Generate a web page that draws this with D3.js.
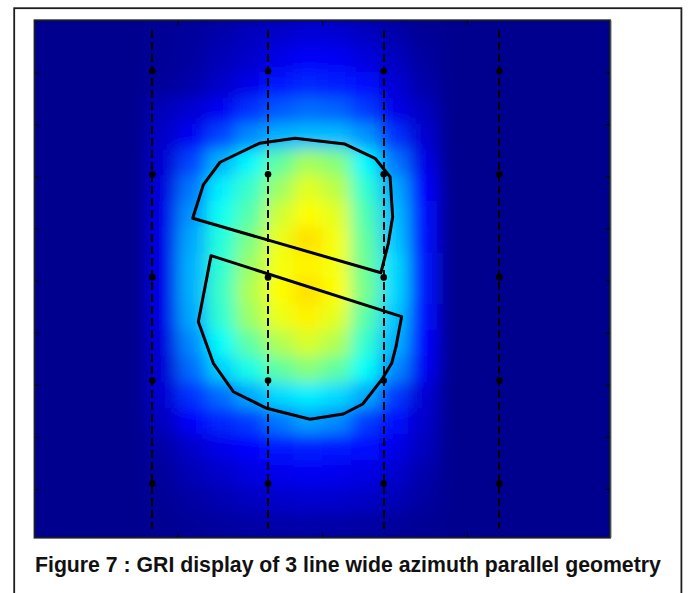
<!DOCTYPE html>
<html>
<head>
<meta charset="utf-8">
<script src="https://cdn.jsdelivr.net/npm/d3@7"></script>
<style>
  html, body { margin: 0; padding: 0; background: #ffffff; }
  svg { display: block; }
</style>
</head>
<body>
<svg id="chart" width="688" height="593"></svg>
<script>
// ---------------- data ----------------
const xDomain = [-1990, 1990];          // crossline distance, m
const yDomain = [0, 4970];              // inline distance, m
const xTicks = [-1000, 0, 1000];
const yTicks = [500, 1000, 1500, 2000, 2500, 3000, 3500, 4000, 4500];

const receiverLineX = [-1175, -375, 425, 1225];
const receiverLineY = [95, 4885];
const receiverStationY = [490, 1480, 2470, 3460, 4450];

const upperPatchX = [-896, -823, -707, -435, -188, 157, 365, 469, 487, 457, 406];
const upperPatchY = [1902, 1582, 1364, 1182, 1134, 1189, 1326, 1503, 1887, 2142, 2425];
const lowerPatchX = [-769, 549, 510, 480, 418, 280, 146, -85, -384, -615, -753, -857];
const lowerPatchY = [2261, 2847, 3135, 3295, 3439, 3686, 3782, 3833, 3727, 3568, 3295, 2895];

// GRI value per grid cell (20 rows x 20 columns), colour-index fraction 0..1
const gridValues = [
  [0,0,0,0, 0.008,0.015,0.028,0.045,0.058,0.072,0.068,0.050,0.028,0.008, 0,0,0,0,0,0],
  [0,0,0,0, 0.008,0.017,0.040,0.058,0.088,0.105,0.100,0.078,0.050,0.017, 0,0,0,0,0,0],
  [0,0,0,0, 0.012,0.028,0.058,0.088,0.130,0.150,0.140,0.120,0.068,0.028, 0,0,0,0,0,0],
  [0,0,0,0, 0.045,0.068,0.100,0.160,0.200,0.220,0.210,0.170,0.090,0.050, 0,0,0,0,0,0],
  [0,0,0,0, 0.058,0.100,0.180,0.250,0.290,0.300,0.300,0.260,0.160,0.068, 0,0,0,0,0,0],
  [0,0,0,0, 0.068,0.180,0.290,0.360,0.460,0.530,0.500,0.360,0.230,0.088, 0,0,0,0,0,0],
  [0,0,0,0, 0.078,0.230,0.350,0.420,0.520,0.590,0.550,0.410,0.280,0.110, 0,0,0,0,0,0],
  [0,0,0,0, 0.088,0.260,0.380,0.450,0.570,0.620,0.590,0.440,0.300,0.120, 0,0,0,0,0,0],
  [0,0,0,0, 0.088,0.280,0.400,0.490,0.600,0.650,0.610,0.460,0.310,0.120, 0,0,0,0,0,0],
  [0,0,0,0, 0.090,0.290,0.410,0.520,0.610,0.630,0.610,0.470,0.330,0.130, 0,0,0,0,0,0],
  [0,0,0,0, 0.090,0.290,0.420,0.540,0.620,0.650,0.620,0.480,0.330,0.130, 0,0,0,0,0,0],
  [0,0,0,0, 0.088,0.280,0.410,0.520,0.600,0.630,0.590,0.450,0.310,0.120, 0,0,0,0,0,0],
  [0,0,0,0, 0.078,0.250,0.370,0.460,0.540,0.580,0.540,0.410,0.290,0.110, 0,0,0,0,0,0],
  [0,0,0,0, 0.068,0.220,0.320,0.390,0.460,0.500,0.460,0.370,0.250,0.100, 0,0,0,0,0,0],
  [0,0,0,0, 0.070,0.160,0.220,0.280,0.330,0.350,0.330,0.280,0.170,0.070, 0,0,0,0,0,0],
  [0,0,0,0, 0.050,0.108,0.150,0.170,0.230,0.270,0.250,0.170,0.120,0.060, 0,0,0,0,0,0],
  [0,0,0,0, 0.025,0.060,0.090,0.110,0.130,0.140,0.135,0.120,0.090,0.047, 0,0,0,0,0,0],
  [0,0,0,0, 0.015,0.040,0.060,0.080,0.092,0.100,0.095,0.085,0.064,0.030, 0,0,0,0,0,0],
  [0,0,0,0, 0.008,0.020,0.035,0.050,0.060,0.064,0.062,0.055,0.040,0.018, 0,0,0,0,0,0],
  [0,0,0,0, 0.004,0.010,0.016,0.022,0.025,0.027,0.025,0.020,0.014,0.006, 0,0,0,0,0,0]
];

const captionText = "Figure 7 : GRI display of 3 line wide azimuth parallel geometry";

// ---------------- drawing ----------------
const svg = d3.select("#chart");
const plot = { left: 34.5, right: 610, top: 20.25, bottom: 537.7 };

const x = d3.scaleLinear().domain(xDomain).range([plot.left, plot.right]);
const y = d3.scaleLinear().domain(yDomain).range([plot.top, plot.bottom]);

// MATLAB jet(64) colour map
function jet(v) {
  const t = Math.max(0, Math.min(1, v)) * 63;
  const clamp = a => Math.max(0, Math.min(1, a));
  let b = t <= 7 ? 0.5625 + t / 16 : (t <= 23 ? 1 : 1 - (t - 23) / 16);
  let g = t <= 7 ? 0 : (t <= 23 ? (t - 7) / 16 : (t <= 39 ? 1 : 1 - (t - 39) / 16));
  let r = t <= 23 ? 0 : (t <= 39 ? (t - 23) / 16 : (t <= 55 ? 1 : 1 - (t - 55) / 16));
  return d3.rgb(clamp(r) * 255, clamp(g) * 255, clamp(b) * 255).formatHex();
}
const color = d3.scaleSequential(jet).domain([0, 1]);

const defs = svg.append("defs");
defs.append("clipPath").attr("id", "plotClip")
  .append("rect")
  .attr("x", plot.left).attr("y", plot.top)
  .attr("width", plot.right - plot.left).attr("height", plot.bottom - plot.top);

const nR = gridValues.length, nC = gridValues[0].length;
const cellW = (xDomain[1] - xDomain[0]) / nC;
const cellH = (yDomain[1] - yDomain[0]) / nR;
const cellPxW = x(xDomain[0] + cellW) - x(xDomain[0]);
const cellPxH = y(yDomain[0] + cellH) - y(yDomain[0]);

defs.append("filter").attr("id", "smooth")
  .attr("filterUnits", "userSpaceOnUse")
  .attr("x", 0).attr("y", 0).attr("width", 688).attr("height", 593)
  .append("feGaussianBlur")
  .attr("stdDeviation", `${(cellPxW / Math.sqrt(12)).toFixed(2)} ${(cellPxH / Math.sqrt(12)).toFixed(2)}`);

const heatClip = svg.append("g").attr("clip-path", "url(#plotClip)");
const heat = heatClip.append("g").attr("filter", "url(#smooth)");

heat.append("rect")
  .attr("x", plot.left - 40).attr("y", plot.top - 40)
  .attr("width", plot.right - plot.left + 80).attr("height", plot.bottom - plot.top + 80)
  .attr("fill", color(0));

const cells = [];
gridValues.forEach((row, r) => row.forEach((v, c) => cells.push({ r, c, v })));

heat.selectAll("rect.cell")
  .data(cells.filter(d => d.v > 0))
  .join("rect")
  .attr("class", "cell")
  .attr("x", d => x(xDomain[0] + d.c * cellW) - 0.3)
  .attr("y", d => y(yDomain[0] + d.r * cellH) - 0.3)
  .attr("width", d => x(xDomain[0] + (d.c + 1) * cellW) - x(xDomain[0] + d.c * cellW) + 0.6)
  .attr("height", d => y(yDomain[0] + (d.r + 1) * cellH) - y(yDomain[0] + d.r * cellH) + 0.6)
  .attr("fill", d => color(d.v));

// receiver lines
const overlay = svg.append("g").attr("clip-path", "url(#plotClip)");
overlay.selectAll("line.rline")
  .data(receiverLineX)
  .join("line")
  .attr("class", "rline")
  .attr("x1", d => x(d)).attr("x2", d => x(d))
  .attr("y1", y(receiverLineY[0])).attr("y2", y(receiverLineY[1]))
  .attr("stroke", "#000").attr("stroke-width", 2)
  .attr("stroke-dasharray", "8,4")
  .attr("shape-rendering", "crispEdges");

const stations = [];
receiverLineX.forEach(lx => receiverStationY.forEach(sy => stations.push({ lx, sy })));
overlay.selectAll("circle.station")
  .data(stations)
  .join("circle")
  .attr("class", "station")
  .attr("cx", d => x(d.lx)).attr("cy", d => y(d.sy))
  .attr("r", 3.3).attr("fill", "#000");

// polygons
const polyLine = d3.line().x(d => x(d[0])).y(d => y(d[1])).curve(d3.curveLinearClosed);
const patches = [
  d3.zip(upperPatchX, upperPatchY),
  d3.zip(lowerPatchX, lowerPatchY)
];
overlay.selectAll("path.patch")
  .data(patches)
  .join("path")
  .attr("class", "patch")
  .attr("d", polyLine)
  .attr("fill", "none")
  .attr("stroke", "#000")
  .attr("stroke-width", 3)
  .attr("stroke-linejoin", "round");

// axes (ticks only, pointing inward)
function styleAxis(g) {
  g.select(".domain").remove();
  g.selectAll(".tick line").attr("stroke", "#000").attr("stroke-width", 1);
  g.selectAll(".tick text").remove();
}
svg.append("g").attr("transform", `translate(0,${plot.top})`)
  .call(d3.axisTop(x).tickValues(xTicks).tickSizeInner(-5).tickSizeOuter(0).tickFormat(""))
  .call(styleAxis);
svg.append("g").attr("transform", `translate(0,${plot.bottom})`)
  .call(d3.axisBottom(x).tickValues(xTicks).tickSizeInner(-5).tickSizeOuter(0).tickFormat(""))
  .call(styleAxis);
svg.append("g").attr("transform", `translate(${plot.left},0)`)
  .call(d3.axisLeft(y).tickValues(yTicks).tickSizeInner(-5).tickSizeOuter(0).tickFormat(""))
  .call(styleAxis);
svg.append("g").attr("transform", `translate(${plot.right},0)`)
  .call(d3.axisRight(y).tickValues(yTicks).tickSizeInner(-5).tickSizeOuter(0).tickFormat(""))
  .call(styleAxis);

// axes box
svg.append("rect")
  .attr("x", plot.left).attr("y", plot.top)
  .attr("width", plot.right - plot.left).attr("height", plot.bottom - plot.top)
  .attr("fill", "none").attr("stroke", "#17201f").attr("stroke-width", 1.8);
svg.append("line")
  .attr("x1", plot.right + 1.3).attr("x2", plot.right + 1.3)
  .attr("y1", plot.top).attr("y2", plot.bottom)
  .attr("stroke", "#a8a8a8").attr("stroke-width", 1);

// outer figure frame
svg.append("rect")
  .attr("x", 14.2).attr("y", 8.2).attr("width", 667.2).attr("height", 640)
  .attr("fill", "none").attr("stroke", "#1e1e1e").attr("stroke-width", 1.8);

// caption
const cap = svg.append("text")
  .attr("x", 35).attr("y", 572)
  .attr("font-family", "'Liberation Sans', Arial, Helvetica, sans-serif")
  .attr("font-weight", "bold")
  .attr("font-size", 20)
  .attr("fill", "#111")
  .text(captionText);
const w = cap.node().getComputedTextLength();
cap.attr("font-size", (20 * 626 / w).toFixed(2));
</script>
</body>
</html>
